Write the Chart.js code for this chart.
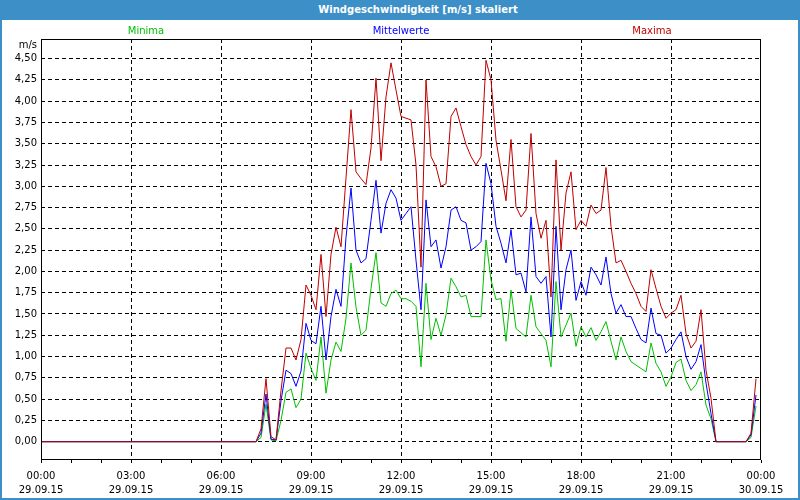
<!DOCTYPE html>
<html>
<head>
<meta charset="UTF-8">
<title>Windgeschwindigkeit</title>
<style type="text/css">
    body {
        margin: 0;
        padding: 0;
        background-color: white;
    }

    #wrapper {
        position: relative;
        width: 800px;
        height: 500px;
    }

    #titleBar {
        position: absolute;
        left: 0;
        top: 0;
        width: 800px;
        height: 20px;
        box-sizing: border-box;
        padding-left: 36px;
        background-color: #3d8fc7;
        color: white;
        font: bold 10px 'DejaVu Sans', sans-serif;
        line-height: 20px;
        text-align: center;
    }

    #frame {
        position: absolute;
        left: 0;
        top: 20px;
        width: 800px;
        height: 480px;
        box-sizing: border-box;
        border: 2px solid #3d8fc7;
        border-top: 0;
        pointer-events: none;
    }

    #windChart {
        position: absolute;
        left: 0;
        top: 0;
    }
</style>
<script src="https://cdn.jsdelivr.net/npm/chart.js@4.4.0/dist/chart.umd.min.js"></script>
</head>
<body>
<div id="wrapper">
    <canvas id="windChart" width="800" height="500"></canvas>
    <div id="titleBar">Windgeschwindigkeit [m/s] skaliert</div>
    <div id="frame"></div>
</div>

<script type="text/javascript">
// 10-Minuten-Werte vom 29.09.15 00:00 bis 23:50
var stepMinutes = 10;

var maxima = [
    0, 0, 0, 0, 0, 0, 0, 0, 0, 0, 0, 0,
    0, 0, 0, 0, 0, 0, 0, 0, 0, 0, 0, 0,
    0, 0, 0, 0, 0, 0, 0, 0, 0, 0, 0, 0,
    0, 0, 0, 0, 0, 0, 0, 0, 0.15, 0.74, 0.06, 0.02,
    0.6, 1.1, 1.1, 0.96, 1.2, 1.84, 1.72, 1.55, 2.2, 1.47, 2.2, 2.52,
    2.29, 3.1, 3.9, 3.17, 3.09, 3.02, 3.45, 4.27, 3.3, 4.05, 4.45, 4.13,
    3.82, 3.8, 3.78, 3.25, 2.05, 4.25, 3.35, 3.23, 3.0, 3.03, 3.82, 3.92,
    3.7, 3.49, 3.35, 3.25, 3.35, 4.48, 4.25, 3.54, 3.19, 2.83, 3.55, 2.76,
    2.64, 2.72, 3.62, 2.68, 2.39, 2.6, 1.7, 3.31, 2.25, 2.92, 3.17, 2.49,
    2.6, 2.53, 2.78, 2.68, 2.72, 3.22, 2.53, 2.1, 2.13, 2.0, 1.86, 1.74,
    1.59, 1.53, 2.02, 1.8, 1.59, 1.45, 1.51, 1.55, 1.72, 1.27, 1.1, 1.18,
    1.55, 0.84, 0.51, 0, 0, 0, 0, 0, 0, 0, 0.1, 0.74
];

var mittelwerte = [
    0, 0, 0, 0, 0, 0, 0, 0, 0, 0, 0, 0,
    0, 0, 0, 0, 0, 0, 0, 0, 0, 0, 0, 0,
    0, 0, 0, 0, 0, 0, 0, 0, 0, 0, 0, 0,
    0, 0, 0, 0, 0, 0, 0, 0, 0.1, 0.56, 0.03, 0.02,
    0.48, 0.84, 0.8, 0.65, 0.83, 1.39, 1.19, 1.15, 1.59, 0.96, 1.47, 1.79,
    1.59, 2.4, 2.98, 2.25, 2.1, 2.15, 2.6, 3.07, 2.45, 2.8, 2.96, 2.86,
    2.6, 2.68, 2.76, 2.13, 1.55, 2.84, 2.29, 2.37, 2.04, 2.29, 2.72, 2.76,
    2.6, 2.57, 2.25, 2.29, 2.35, 3.27, 3.03, 2.53, 2.33, 2.1, 2.49, 1.96,
    1.98, 1.76, 2.64, 1.94, 1.86, 1.94, 1.23, 2.53, 1.55, 2.02, 2.25, 1.66,
    1.88, 1.72, 2.05, 1.96, 1.84, 2.17, 1.74, 1.51, 1.61, 1.47, 1.47, 1.33,
    1.2, 1.16, 1.57, 1.27, 1.25, 1.04, 1.1, 1.2, 1.29, 1.0, 0.85, 0.94,
    1.14, 0.69, 0.33, 0, 0, 0, 0, 0, 0, 0, 0.08, 0.55
];

var minima = [
    0, 0, 0, 0, 0, 0, 0, 0, 0, 0, 0, 0,
    0, 0, 0, 0, 0, 0, 0, 0, 0, 0, 0, 0,
    0, 0, 0, 0, 0, 0, 0, 0, 0, 0, 0, 0,
    0, 0, 0, 0, 0, 0, 0, 0, 0.05, 0.44, 0.02, 0.01,
    0.25, 0.58, 0.62, 0.4, 0.5, 1.04, 0.86, 0.72, 1.23, 0.57, 0.96, 1.17,
    1.06, 1.45, 2.1, 1.58, 1.25, 1.31, 1.8, 2.22, 1.63, 1.59, 1.74, 1.78,
    1.68, 1.68, 1.65, 1.59, 0.88, 1.86, 1.2, 1.45, 1.25, 1.49, 1.92, 1.82,
    1.7, 1.72, 1.47, 1.47, 1.47, 2.37, 1.9, 1.67, 1.68, 1.18, 1.78, 1.33,
    1.28, 1.23, 1.72, 1.35, 1.27, 1.19, 0.88, 1.88, 1.23, 1.37, 1.51, 1.12,
    1.35, 1.23, 1.34, 1.19, 1.29, 1.41, 1.18, 0.96, 1.23, 1.06, 0.94, 0.9,
    0.86, 0.82, 1.16, 0.92, 0.82, 0.65, 0.76, 0.93, 0.97, 0.72, 0.6, 0.67,
    0.82, 0.43, 0.27, 0, 0, 0, 0, 0, 0, 0, 0.05, 0.42
];

var yTicks = [0, 0.25, 0.5, 0.75, 1, 1.25, 1.5, 1.75, 2, 2.25, 2.5, 2.75, 3, 3.25, 3.5, 3.75, 4, 4.25, 4.5];
var xTickHours = [0, 3, 6, 9, 12, 15, 18, 21, 24];
var xTimeLabels = ['00:00', '03:00', '06:00', '09:00', '12:00', '15:00', '18:00', '21:00', '00:00'];
var xDateLabels = ['29.09.15', '29.09.15', '29.09.15', '29.09.15', '29.09.15', '29.09.15', '29.09.15', '29.09.15', '30.09.15'];
var seriesNames = ['Minima', 'Mittelwerte', 'Maxima'];
var seriesColors = ['#00c000', '#0000ff', '#c00000'];

var fontName = "'DejaVu Sans', sans-serif";

function toPoints(values) {
    var pts = [];
    for (var i = 0; i < values.length; i++) {
        pts.push({ x: i * stepMinutes / 60, y: values[i] });
    }
    return pts;
}

// Rahmen, Einheit und Reihennamen
var decorPlugin = {
    id: 'decor',
    beforeDraw: function (chart) {
        var ctx = chart.ctx;
        ctx.save();
        ctx.fillStyle = 'white';
        ctx.fillRect(0, 0, chart.width, chart.height);
        ctx.restore();
    },
    afterDraw: function (chart) {
        var ctx = chart.ctx;
        var a = chart.chartArea;
        ctx.save();
        ctx.strokeStyle = 'black';
        ctx.lineWidth = 1;
        ctx.strokeRect(Math.round(a.left) + 0.5, Math.round(a.top) + 0.5,
            Math.round(a.right - a.left) - 1, Math.round(a.bottom - a.top) - 1);

        ctx.font = '10px ' + fontName;
        ctx.textBaseline = 'middle';
        ctx.fillStyle = 'black';
        ctx.textAlign = 'right';
        ctx.fillText('m/s', a.left - 4, 45);

        var centers = [146, 401, 652];
        ctx.textAlign = 'center';
        for (var i = 0; i < seriesNames.length; i++) {
            ctx.fillStyle = seriesColors[i];
            ctx.fillText(seriesNames[i], centers[i], 31);
        }
        ctx.restore();
    }
};

var ctx = document.getElementById('windChart').getContext('2d');
var windChart = new Chart(ctx, {
    type: 'line',
    data: {
        datasets: [{
            label: seriesNames[2],
            data: toPoints(maxima),
            borderColor: seriesColors[2],
            order: 0
        }, {
            label: seriesNames[1],
            data: toPoints(mittelwerte),
            borderColor: seriesColors[1],
            order: 1
        }, {
            label: seriesNames[0],
            data: toPoints(minima),
            borderColor: seriesColors[0],
            order: 2
        }]
    },
    options: {
        responsive: false,
        animation: false,
        devicePixelRatio: 1,
        layout: {
            padding: { top: 39, right: 39, left: 0, bottom: 0 }
        },
        elements: {
            line: { borderWidth: 1, tension: 0, fill: false },
            point: { radius: 0 }
        },
        plugins: {
            legend: { display: false },
            title: { display: false },
            tooltip: { enabled: false }
        },
        scales: {
            x: {
                type: 'linear',
                min: 0,
                max: 24,
                afterFit: function (scale) { scale.height = 40; },
                afterBuildTicks: function (scale) {
                    var t = [];
                    for (var h = 0; h <= 24; h++) t.push({ value: h });
                    scale.ticks = t;
                },
                ticks: {
                    autoSkip: false,
                    maxRotation: 0,
                    padding: 6,
                    color: 'black',
                    font: { family: fontName, size: 10, lineHeight: 1.45 },
                    callback: function (value) {
                        var k = xTickHours.indexOf(value);
                        if (k < 0) return '';
                        return [xTimeLabels[k], xDateLabels[k]];
                    }
                },
                grid: {
                    drawTicks: true,
                    tickLength: 3,
                    tickColor: 'black',
                    tickBorderDash: [],
                    lineWidth: 1,
                    color: function (c) {
                        var v = c.tick ? c.tick.value : -1;
                        if (v > 0 && v < 24 && v % 3 === 0) return 'black';
                        return 'rgba(0,0,0,0)';
                    }
                },
                border: { display: false, dash: [4, 3] }
            },
            y: {
                min: -0.215,
                max: 4.73,
                afterFit: function (scale) { scale.width = 41; },
                afterBuildTicks: function (scale) {
                    scale.ticks = yTicks.map(function (v) { return { value: v }; });
                },
                ticks: {
                    padding: 4,
                    color: 'black',
                    font: { family: fontName, size: 10 },
                    callback: function (value) {
                        return value.toFixed(2).replace('.', ',');
                    }
                },
                grid: {
                    drawTicks: false,
                    color: 'black',
                    lineWidth: 1
                },
                border: { display: false, dash: [4, 3] }
            }
        }
    },
    plugins: [decorPlugin]
});
</script>
</body>
</html>
